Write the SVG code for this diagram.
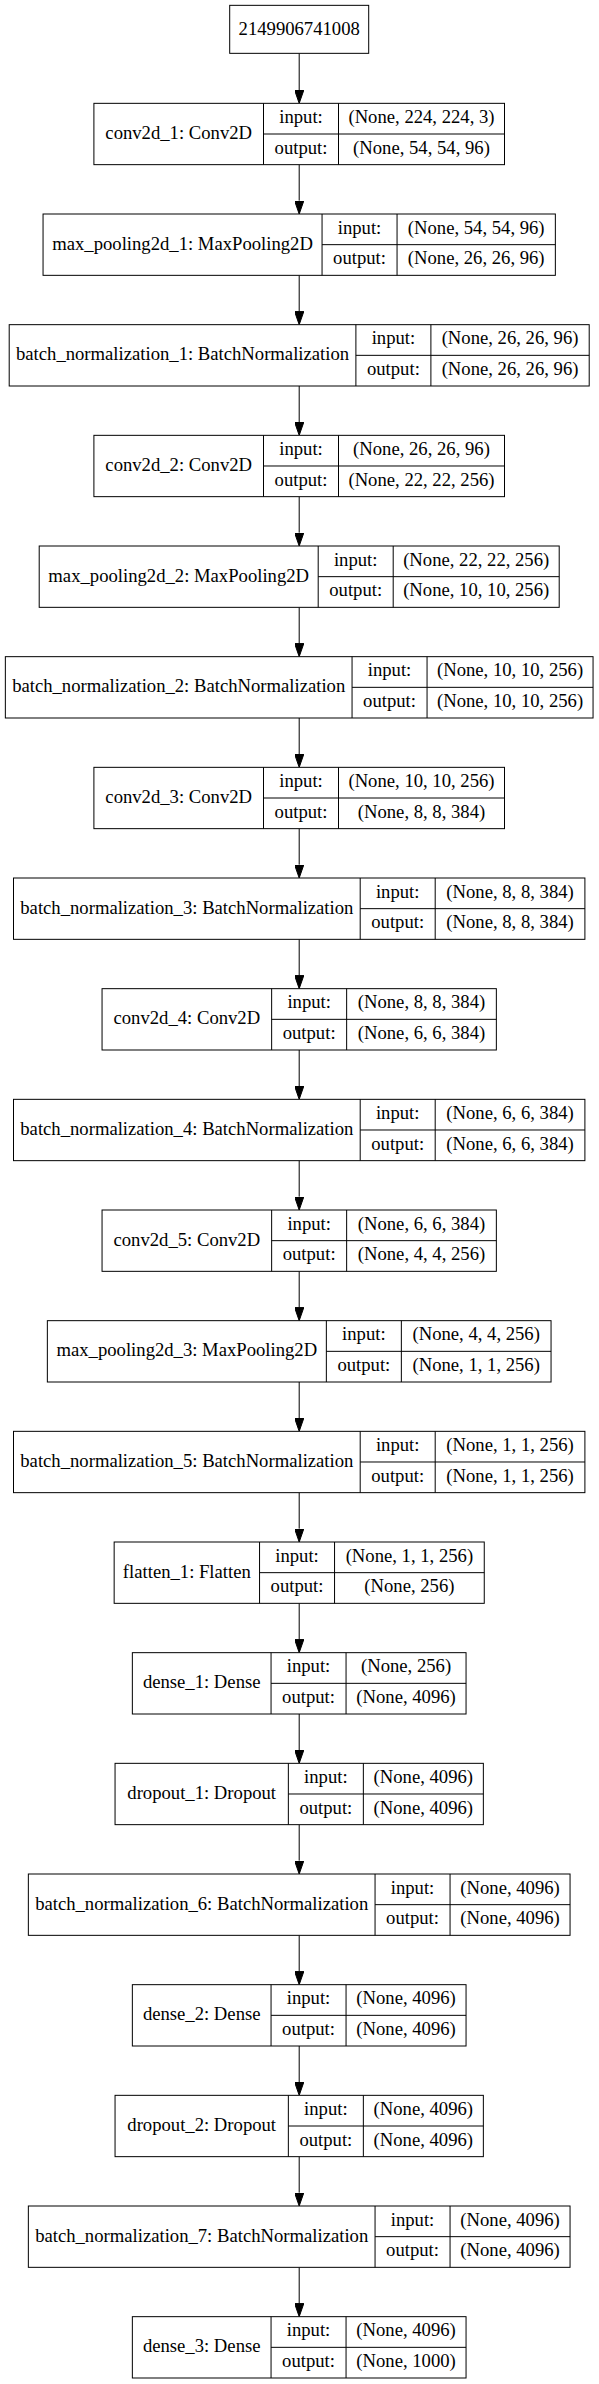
<svg xmlns="http://www.w3.org/2000/svg" width="599" height="2384" viewBox="0 0 599 2384">
<style>
.b{fill:#fff;stroke:#000;stroke-width:1}
.l{fill:none;stroke:#000;stroke-width:1}
.e{fill:none;stroke:#000;stroke-width:1;marker-end:url(#arr)}
text{font-family:"Liberation Serif","Times New Roman",serif;font-size:18.67px;text-anchor:middle;fill:#000}
</style>
<defs>
<marker id="arr" viewBox="0 0 13.33 9.33" refX="0" refY="4.67" markerUnits="userSpaceOnUse" markerWidth="13.33" markerHeight="9.33" orient="auto">
<path d="M0,0L13.33,4.67L0,9.33z" fill="#000" stroke="#000" stroke-width="1"/>
</marker>
</defs>
<rect width="599" height="2384" fill="#fff"/>
<g id="connectors">
<path class="e" d="M299.2,53.33V90"/>
<path class="e" d="M299.2,164.67V200.67"/>
<path class="e" d="M299.2,275.33V311.33"/>
<path class="e" d="M299.2,386V422"/>
<path class="e" d="M299.2,496.67V532.67"/>
<path class="e" d="M299.2,607.33V643.33"/>
<path class="e" d="M299.2,718V754"/>
<path class="e" d="M299.2,828.67V864.67"/>
<path class="e" d="M299.2,939.33V975.33"/>
<path class="e" d="M299.2,1050V1086"/>
<path class="e" d="M299.2,1160.67V1196.67"/>
<path class="e" d="M299.2,1271.33V1307.33"/>
<path class="e" d="M299.2,1382V1418"/>
<path class="e" d="M299.2,1492.67V1528.67"/>
<path class="e" d="M299.2,1603.33V1639.33"/>
<path class="e" d="M299.2,1714V1750"/>
<path class="e" d="M299.2,1824.67V1860.67"/>
<path class="e" d="M299.2,1935.33V1971.33"/>
<path class="e" d="M299.2,2046V2082"/>
<path class="e" d="M299.2,2156.67V2192.67"/>
<path class="e" d="M299.2,2267.33V2303.33"/>
</g>
<g id="input_node">
<rect class="b" x="229.7" y="5.33" width="139" height="48"/>
<text x="299.2" y="34.7">2149906741008</text>
</g>
<g id="conv2d_1" transform="translate(0,103.33)">
<rect class="b" x="93.9" y="0" width="410.6" height="61.33"/>
<path class="l" d="M263.5,0V61.33M338.5,0V61.33M263.5,30.67H504.5"/>
<text x="178.7" y="35.8">conv2d_1: Conv2D</text>
<text x="301" y="19.6">input:</text><text x="301" y="50.4">output:</text>
<text x="421.5" y="19.6">(None, 224, 224, 3)</text><text x="421.5" y="50.4">(None, 54, 54, 96)</text>
</g>
<g id="max_pooling2d_1" transform="translate(0,214)">
<rect class="b" x="43.05" y="0" width="512.3" height="61.33"/>
<path class="l" d="M322.05,0V61.33M397.05,0V61.33M322.05,30.67H555.35"/>
<text x="182.55" y="35.8">max_pooling2d_1: MaxPooling2D</text>
<text x="359.55" y="19.6">input:</text><text x="359.55" y="50.4">output:</text>
<text x="476.2" y="19.6">(None, 54, 54, 96)</text><text x="476.2" y="50.4">(None, 26, 26, 96)</text>
</g>
<g id="batch_normalization_1" transform="translate(0,324.67)">
<rect class="b" x="9.2" y="0" width="580" height="61.33"/>
<path class="l" d="M355.9,0V61.33M430.9,0V61.33M355.9,30.67H589.2"/>
<text x="182.55" y="35.8">batch_normalization_1: BatchNormalization</text>
<text x="393.4" y="19.6">input:</text><text x="393.4" y="50.4">output:</text>
<text x="510.05" y="19.6">(None, 26, 26, 96)</text><text x="510.05" y="50.4">(None, 26, 26, 96)</text>
</g>
<g id="conv2d_2" transform="translate(0,435.33)">
<rect class="b" x="93.9" y="0" width="410.6" height="61.33"/>
<path class="l" d="M263.5,0V61.33M338.5,0V61.33M263.5,30.67H504.5"/>
<text x="178.7" y="35.8">conv2d_2: Conv2D</text>
<text x="301" y="19.6">input:</text><text x="301" y="50.4">output:</text>
<text x="421.5" y="19.6">(None, 26, 26, 96)</text><text x="421.5" y="50.4">(None, 22, 22, 256)</text>
</g>
<g id="max_pooling2d_2" transform="translate(0,546)">
<rect class="b" x="39.2" y="0" width="520" height="61.33"/>
<path class="l" d="M318.2,0V61.33M393.2,0V61.33M318.2,30.67H559.2"/>
<text x="178.7" y="35.8">max_pooling2d_2: MaxPooling2D</text>
<text x="355.7" y="19.6">input:</text><text x="355.7" y="50.4">output:</text>
<text x="476.2" y="19.6">(None, 22, 22, 256)</text><text x="476.2" y="50.4">(None, 10, 10, 256)</text>
</g>
<g id="batch_normalization_2" transform="translate(0,656.67)">
<rect class="b" x="5.35" y="0" width="587.7" height="61.33"/>
<path class="l" d="M352.05,0V61.33M427.05,0V61.33M352.05,30.67H593.05"/>
<text x="178.7" y="35.8">batch_normalization_2: BatchNormalization</text>
<text x="389.55" y="19.6">input:</text><text x="389.55" y="50.4">output:</text>
<text x="510.05" y="19.6">(None, 10, 10, 256)</text><text x="510.05" y="50.4">(None, 10, 10, 256)</text>
</g>
<g id="conv2d_3" transform="translate(0,767.33)">
<rect class="b" x="93.9" y="0" width="410.6" height="61.33"/>
<path class="l" d="M263.5,0V61.33M338.5,0V61.33M263.5,30.67H504.5"/>
<text x="178.7" y="35.8">conv2d_3: Conv2D</text>
<text x="301" y="19.6">input:</text><text x="301" y="50.4">output:</text>
<text x="421.5" y="19.6">(None, 10, 10, 256)</text><text x="421.5" y="50.4">(None, 8, 8, 384)</text>
</g>
<g id="batch_normalization_3" transform="translate(0,878)">
<rect class="b" x="13.5" y="0" width="571.4" height="61.33"/>
<path class="l" d="M360.2,0V61.33M435.2,0V61.33M360.2,30.67H584.9"/>
<text x="186.85" y="35.8">batch_normalization_3: BatchNormalization</text>
<text x="397.7" y="19.6">input:</text><text x="397.7" y="50.4">output:</text>
<text x="510.05" y="19.6">(None, 8, 8, 384)</text><text x="510.05" y="50.4">(None, 8, 8, 384)</text>
</g>
<g id="conv2d_4" transform="translate(0,988.67)">
<rect class="b" x="102.05" y="0" width="394.3" height="61.33"/>
<path class="l" d="M271.65,0V61.33M346.65,0V61.33M271.65,30.67H496.35"/>
<text x="186.85" y="35.8">conv2d_4: Conv2D</text>
<text x="309.15" y="19.6">input:</text><text x="309.15" y="50.4">output:</text>
<text x="421.5" y="19.6">(None, 8, 8, 384)</text><text x="421.5" y="50.4">(None, 6, 6, 384)</text>
</g>
<g id="batch_normalization_4" transform="translate(0,1099.33)">
<rect class="b" x="13.5" y="0" width="571.4" height="61.33"/>
<path class="l" d="M360.2,0V61.33M435.2,0V61.33M360.2,30.67H584.9"/>
<text x="186.85" y="35.8">batch_normalization_4: BatchNormalization</text>
<text x="397.7" y="19.6">input:</text><text x="397.7" y="50.4">output:</text>
<text x="510.05" y="19.6">(None, 6, 6, 384)</text><text x="510.05" y="50.4">(None, 6, 6, 384)</text>
</g>
<g id="conv2d_5" transform="translate(0,1210)">
<rect class="b" x="102.05" y="0" width="394.3" height="61.33"/>
<path class="l" d="M271.65,0V61.33M346.65,0V61.33M271.65,30.67H496.35"/>
<text x="186.85" y="35.8">conv2d_5: Conv2D</text>
<text x="309.15" y="19.6">input:</text><text x="309.15" y="50.4">output:</text>
<text x="421.5" y="19.6">(None, 6, 6, 384)</text><text x="421.5" y="50.4">(None, 4, 4, 256)</text>
</g>
<g id="max_pooling2d_3" transform="translate(0,1320.67)">
<rect class="b" x="47.35" y="0" width="503.7" height="61.33"/>
<path class="l" d="M326.35,0V61.33M401.35,0V61.33M326.35,30.67H551.05"/>
<text x="186.85" y="35.8">max_pooling2d_3: MaxPooling2D</text>
<text x="363.85" y="19.6">input:</text><text x="363.85" y="50.4">output:</text>
<text x="476.2" y="19.6">(None, 4, 4, 256)</text><text x="476.2" y="50.4">(None, 1, 1, 256)</text>
</g>
<g id="batch_normalization_5" transform="translate(0,1431.33)">
<rect class="b" x="13.5" y="0" width="571.4" height="61.33"/>
<path class="l" d="M360.2,0V61.33M435.2,0V61.33M360.2,30.67H584.9"/>
<text x="186.85" y="35.8">batch_normalization_5: BatchNormalization</text>
<text x="397.7" y="19.6">input:</text><text x="397.7" y="50.4">output:</text>
<text x="510.05" y="19.6">(None, 1, 1, 256)</text><text x="510.05" y="50.4">(None, 1, 1, 256)</text>
</g>
<g id="flatten_1" transform="translate(0,1542)">
<rect class="b" x="114.15" y="0" width="370.1" height="61.33"/>
<path class="l" d="M259.55,0V61.33M334.55,0V61.33M259.55,30.67H484.25"/>
<text x="186.85" y="35.8">flatten_1: Flatten</text>
<text x="297.05" y="19.6">input:</text><text x="297.05" y="50.4">output:</text>
<text x="409.4" y="19.6">(None, 1, 1, 256)</text><text x="409.4" y="50.4">(None, 256)</text>
</g>
<g id="dense_1" transform="translate(0,1652.67)">
<rect class="b" x="132.35" y="0" width="333.7" height="61.33"/>
<path class="l" d="M271.05,0V61.33M346.05,0V61.33M271.05,30.67H466.05"/>
<text x="201.7" y="35.8">dense_1: Dense</text>
<text x="308.55" y="19.6">input:</text><text x="308.55" y="50.4">output:</text>
<text x="406.05" y="19.6">(None, 256)</text><text x="406.05" y="50.4">(None, 4096)</text>
</g>
<g id="dropout_1" transform="translate(0,1763.33)">
<rect class="b" x="115.05" y="0" width="368.3" height="61.33"/>
<path class="l" d="M288.35,0V61.33M363.35,0V61.33M288.35,30.67H483.35"/>
<text x="201.7" y="35.8">dropout_1: Dropout</text>
<text x="325.85" y="19.6">input:</text><text x="325.85" y="50.4">output:</text>
<text x="423.35" y="19.6">(None, 4096)</text><text x="423.35" y="50.4">(None, 4096)</text>
</g>
<g id="batch_normalization_6" transform="translate(0,1874)">
<rect class="b" x="28.35" y="0" width="541.7" height="61.33"/>
<path class="l" d="M375.05,0V61.33M450.05,0V61.33M375.05,30.67H570.05"/>
<text x="201.7" y="35.8">batch_normalization_6: BatchNormalization</text>
<text x="412.55" y="19.6">input:</text><text x="412.55" y="50.4">output:</text>
<text x="510.05" y="19.6">(None, 4096)</text><text x="510.05" y="50.4">(None, 4096)</text>
</g>
<g id="dense_2" transform="translate(0,1984.67)">
<rect class="b" x="132.35" y="0" width="333.7" height="61.33"/>
<path class="l" d="M271.05,0V61.33M346.05,0V61.33M271.05,30.67H466.05"/>
<text x="201.7" y="35.8">dense_2: Dense</text>
<text x="308.55" y="19.6">input:</text><text x="308.55" y="50.4">output:</text>
<text x="406.05" y="19.6">(None, 4096)</text><text x="406.05" y="50.4">(None, 4096)</text>
</g>
<g id="dropout_2" transform="translate(0,2095.33)">
<rect class="b" x="115.05" y="0" width="368.3" height="61.33"/>
<path class="l" d="M288.35,0V61.33M363.35,0V61.33M288.35,30.67H483.35"/>
<text x="201.7" y="35.8">dropout_2: Dropout</text>
<text x="325.85" y="19.6">input:</text><text x="325.85" y="50.4">output:</text>
<text x="423.35" y="19.6">(None, 4096)</text><text x="423.35" y="50.4">(None, 4096)</text>
</g>
<g id="batch_normalization_7" transform="translate(0,2206)">
<rect class="b" x="28.35" y="0" width="541.7" height="61.33"/>
<path class="l" d="M375.05,0V61.33M450.05,0V61.33M375.05,30.67H570.05"/>
<text x="201.7" y="35.8">batch_normalization_7: BatchNormalization</text>
<text x="412.55" y="19.6">input:</text><text x="412.55" y="50.4">output:</text>
<text x="510.05" y="19.6">(None, 4096)</text><text x="510.05" y="50.4">(None, 4096)</text>
</g>
<g id="dense_3" transform="translate(0,2316.67)">
<rect class="b" x="132.35" y="0" width="333.7" height="61.33"/>
<path class="l" d="M271.05,0V61.33M346.05,0V61.33M271.05,30.67H466.05"/>
<text x="201.7" y="35.8">dense_3: Dense</text>
<text x="308.55" y="19.6">input:</text><text x="308.55" y="50.4">output:</text>
<text x="406.05" y="19.6">(None, 4096)</text><text x="406.05" y="50.4">(None, 1000)</text>
</g>
</svg>
